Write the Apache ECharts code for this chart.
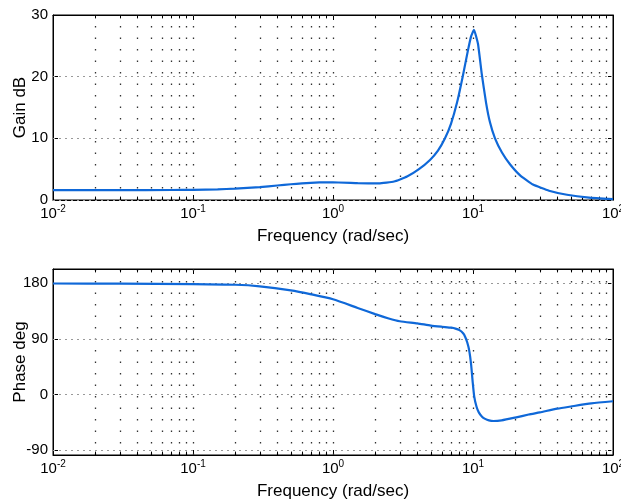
<!DOCTYPE html>
<html><head><meta charset="utf-8">
<script src="https://cdn.jsdelivr.net/npm/echarts@6/dist/echarts.min.js"></script>
<style>html,body{margin:0;padding:0;background:#fff}#c{width:621px;height:499px}</style>
</head><body><div id="c"></div>
<script>
// ---- data ----
const gainFreq = [0.01,0.03,0.07,0.1,0.15,0.2,0.3,0.4,0.5,0.6,0.8,1.0,1.5,2.13,2.73,3.38,4.11,4.93,5.62,6.31,6.97,7.69,8.44,9.21,9.68,10.16,10.86,11.54,12.39,13.22,14.36,16.1,18.37,21.7,26.8,34.9,46.9,67.4,100];
const gainDb   = [1.6,1.6,1.62,1.65,1.72,1.85,2.1,2.35,2.55,2.7,2.85,2.88,2.75,2.68,3.0,3.8,5.0,6.5,8.0,10.0,12.4,15.8,20.0,24.3,26.5,27.6,25.3,20.5,15.8,12.6,10.0,7.7,5.8,4.0,2.5,1.5,0.85,0.4,0.15];
const phaseFreq = [0.01,0.03,0.1,0.2,0.3,0.5,0.7,1.0,1.5,2.0,2.5,3.0,4.0,5.0,6.0,7.0,7.5,8.0,8.5,8.8,9.1,9.4,9.7,9.95,10.2,10.6,11.0,11.6,12.2,13,14,16,20,25,30,40,50,70,100];
const phaseDeg  = [179.5,179.3,178.5,177.5,175,168.5,162,154,140,130,123,118.5,115,111.5,109.5,108,106.5,104,99,93,84,71,48,20,-3,-20,-29,-36,-39.5,-42,-43,-42,-37.5,-32.5,-29,-23,-19.5,-14.5,-11];
const decades = [0.01, 0.1, 1, 10, 100];
const minorSteps = [2,3,4,5,6,7,8,9];
const gainTicks = [0, 10, 20, 30];
const phaseTicks = [-90, 0, 90, 180];
const xName = 'Frequency (rad/sec)';
const gainName = 'Gain dB';
const phaseName = 'Phase deg';

// ---- derived tick positions ----
const minorFreqs = [];
decades.slice(0, -1).forEach(d => minorSteps.forEach(m => minorFreqs.push(+(d * m).toPrecision(3))));
const innerDecades = decades.slice(1, -1);

const FONT = 'Liberation Sans, Arial, sans-serif';
const blue = '#0f68d8';
const vStyle = {color: '#333', type: [1.5, 10], width: 1.3};
const hStyle = {color: '#999', type: [2, 4], width: 1};
const tStyle = {color: '#000', type: 'solid', width: 1};

function marks(yMin, yMax, hVals, tickLen) {
  const data = [];
  innerDecades.concat(minorFreqs).forEach(f => data.push({xAxis: f, lineStyle: vStyle}));
  hVals.forEach(v => data.push({yAxis: v, lineStyle: hStyle}));
  minorFreqs.forEach(f => {
    data.push([{coord: [f, yMin], lineStyle: tStyle}, {coord: [f, yMin + tickLen], lineStyle: tStyle}]);
    data.push([{coord: [f, yMax], lineStyle: tStyle}, {coord: [f, yMax - tickLen], lineStyle: tStyle}]);
  });
  return {silent: true, symbol: ['none', 'none'], z: 1, label: {show: false}, emphasis: {disabled: true}, animation: false, data};
}

const supFmt = v => '{b|10}{s|' + Math.round(Math.log10(v)) + '}';
const rich = {
  b: {fontSize: 15, lineHeight: 20, fontFamily: FONT, color: '#000'},
  s: {fontSize: 10, lineHeight: 11, verticalAlign: 'top', fontFamily: FONT, color: '#000'}
};

function xAxes(gi) {
  return [{
    type: 'log', logBase: 10, min: 0.01, max: 100, gridIndex: gi, position: 'bottom',
    name: xName, nameLocation: 'middle', nameGap: 28, nameMoveOverlap: false,
    nameTextStyle: {fontSize: 17, fontFamily: FONT, color: '#000'},
    axisLine: {show: true, onZero: false, lineStyle: {color: '#000'}},
    axisTick: {show: true, inside: true, length: 5, lineStyle: {color: '#000'}},
    axisLabel: {formatter: supFmt, rich, margin: 4},
    splitLine: {show: false}, minorTick: {show: false}
  }, {
    type: 'log', logBase: 10, min: 0.01, max: 100, gridIndex: gi, position: 'top',
    axisLine: {show: true, onZero: false, lineStyle: {color: '#000'}},
    axisTick: {show: true, inside: true, length: 5, lineStyle: {color: '#000'}},
    axisLabel: {show: false}, splitLine: {show: false}
  }];
}

function yAxes(gi, min, max, ticks, name) {
  const common = {type: 'value', gridIndex: gi, min, max, splitLine: {show: false},
    axisLine: {show: true, lineStyle: {color: '#000'}}};
  return [Object.assign({}, common, {
    position: 'left', name, nameLocation: 'middle', nameGap: 24, nameRotate: 90, nameMoveOverlap: false,
    nameTextStyle: {fontSize: 17, fontFamily: FONT, color: '#000'},
    axisTick: {show: true, inside: true, length: 5, lineStyle: {color: '#000'}, customValues: ticks},
    axisLabel: {fontSize: 15, fontFamily: FONT, color: '#000', margin: 5, customValues: ticks}
  }), Object.assign({}, common, {
    position: 'right',
    axisTick: {show: true, inside: true, length: 5, lineStyle: {color: '#000'}, customValues: ticks},
    axisLabel: {show: false}
  })];
}

const gMin = 0, gMax = 30, pMin = -98, pMax = 203;
const chart = echarts.init(document.getElementById('c'), null, {renderer: 'canvas'});
chart.setOption({
  animation: false,
  backgroundColor: '#fff',
  grid: [
    {left: 53, top: 15, width: 560, height: 185, show: true, borderColor: '#000', borderWidth: 1, containLabel: false, outerBoundsMode: 'none'},
    {left: 53, top: 269, width: 560, height: 186, show: true, borderColor: '#000', borderWidth: 1, containLabel: false, outerBoundsMode: 'none'}
  ],
  xAxis: xAxes(0).concat(xAxes(1)),
  yAxis: yAxes(0, gMin, gMax, gainTicks, gainName).concat(yAxes(1, pMin, pMax, phaseTicks, phaseName)),
  series: [{
    type: 'line', xAxisIndex: 0, yAxisIndex: 0, z: 5, showSymbol: false, smooth: 0.12,
    lineStyle: {color: blue, width: 2.2},
    data: gainFreq.map((f, i) => [f, gainDb[i]]),
    markLine: marks(gMin, gMax, gainTicks.slice(1, -1).concat([0]), 0.55)
  }, {
    type: 'line', xAxisIndex: 2, yAxisIndex: 2, z: 5, showSymbol: false, smooth: 0.2,
    lineStyle: {color: blue, width: 2.2},
    data: phaseFreq.map((f, i) => [f, phaseDeg[i]]),
    markLine: marks(pMin, pMax, phaseTicks, 5.5)
  }]
});
</script></body></html>
